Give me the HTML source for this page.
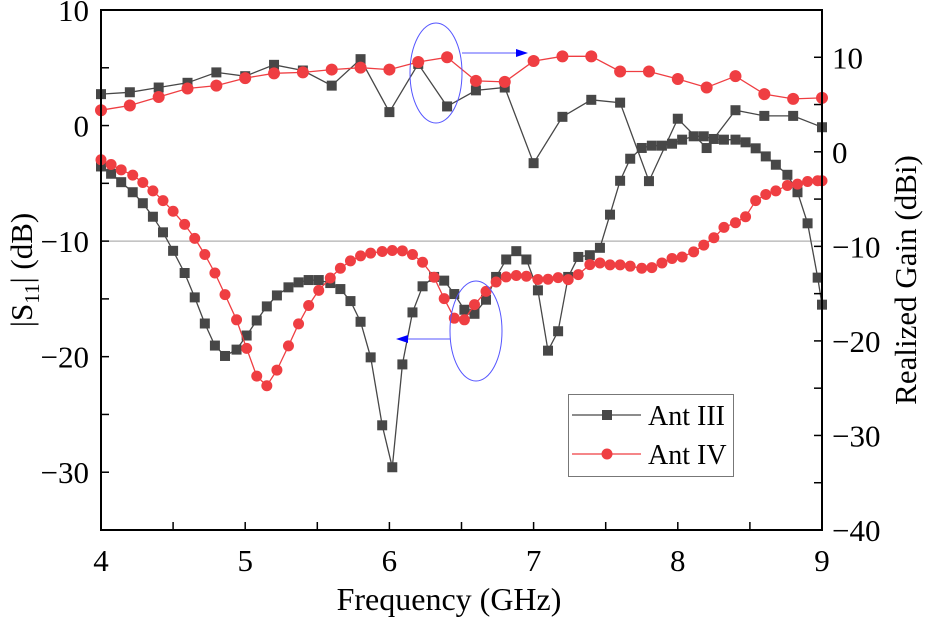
<!DOCTYPE html>
<html><head><meta charset="utf-8">
<style>
html,body{margin:0;padding:0;background:#fff;}
svg{display:block;font-family:"Liberation Serif",serif;}
</style></head>
<body>
<svg id="chart" width="925" height="619" viewBox="0 0 925 619"></svg>
<script>
const freqS11=[4.00,4.07,4.14,4.22,4.29,4.36,4.43,4.50,4.58,4.65,4.72,4.79,4.86,4.94,5.01,5.08,5.15,5.22,5.30,5.37,5.44,5.51,5.59,5.66,5.73,5.80,5.87,5.95,6.02,6.09,6.16,6.23,6.31,6.38,6.45,6.52,6.59,6.67,6.74,6.81,6.88,6.95,7.03,7.10,7.17,7.24,7.31,7.39,7.46,7.53,7.60,7.67,7.75,7.82,7.89,7.96,8.03,8.11,8.18,8.25,8.32,8.40,8.47,8.54,8.61,8.68,8.76,8.83,8.90,8.97,9.00];
const s11AntIII=[-3.54,-4.17,-4.90,-5.77,-6.72,-7.89,-9.24,-10.84,-12.76,-14.87,-17.13,-19.04,-19.94,-19.39,-18.17,-16.87,-15.65,-14.70,-14.00,-13.57,-13.37,-13.37,-13.63,-14.15,-15.19,-16.98,-20.06,-25.94,-29.57,-20.67,-16.17,-13.91,-13.10,-13.42,-14.58,-15.94,-16.29,-15.07,-13.10,-11.59,-10.87,-11.59,-14.26,-19.48,-17.80,-13.10,-11.37,-11.22,-10.58,-7.71,-4.78,-2.87,-1.94,-1.74,-1.74,-1.57,-1.22,-0.93,-0.93,-1.16,-1.22,-1.22,-1.45,-1.97,-2.67,-3.39,-4.26,-5.77,-8.46,-13.16,-15.50];
const s11AntIV=[-2.96,-3.37,-3.83,-4.29,-4.93,-5.65,-6.50,-7.42,-8.55,-9.76,-11.16,-12.76,-14.63,-16.81,-19.28,-21.68,-22.52,-21.16,-19.07,-17.16,-15.57,-14.26,-13.19,-12.35,-11.71,-11.28,-11.04,-10.90,-10.81,-10.84,-11.16,-11.83,-13.13,-14.98,-16.67,-16.81,-15.50,-14.35,-13.54,-13.10,-12.98,-13.04,-13.32,-13.30,-13.16,-13.33,-12.90,-12.03,-11.89,-12.06,-12.06,-12.17,-12.35,-12.29,-11.89,-11.50,-11.37,-10.93,-10.35,-9.71,-8.81,-8.41,-7.89,-6.50,-5.97,-5.65,-5.19,-5.07,-4.84,-4.78,-4.78];
const freqGain=[4.0,4.2,4.4,4.6,4.8,5.0,5.2,5.4,5.6,5.8,6.0,6.2,6.4,6.6,6.8,7.0,7.2,7.4,7.6,7.8,8.0,8.2,8.4,8.6,8.8,9.0];
const gainAntIII=[6.1,6.3,6.8,7.3,8.4,8.0,9.2,8.6,7.0,9.8,4.2,9.3,4.8,6.5,6.8,-1.2,3.7,5.5,5.2,-3.1,3.5,0.4,4.4,3.8,3.8,2.6];
const gainAntIV=[4.4,4.9,5.8,6.7,7.0,7.8,8.3,8.4,8.7,8.9,8.7,9.5,10.0,7.5,7.4,9.6,10.1,10.1,8.5,8.5,7.7,6.8,8.0,6.1,5.6,5.7];
const xTicks=[4,5,6,7,8,9];
const leftTicks=[10,0,-10,-20,-30];
const rightTicks=[10,0,-10,-20,-30,-40];

const NS="http://www.w3.org/2000/svg";
const svg=document.getElementById("chart");
const L=101,R=822,T=10,B=530;
const x=f=>L+(f-4)/5*(R-L);
const yL=v=>B-(v+35)/45*(B-T);
const yR=v=>B-(v+40)/55*(B-T);
function mk(tag,attrs,parent){const e=document.createElementNS(NS,tag);for(const k in attrs)e.setAttribute(k,attrs[k]);(parent||svg).appendChild(e);return e;}

const ref=mk("line",{x1:L,x2:R,y1:yL(-10),y2:yL(-10),stroke:"#b0b0b0","stroke-width":1.2});



function series(xs,ys,yf,color,shape,name,sz){
  const g=mk("g",{});
  
  
  const pts=xs.map((f,i)=>x(f).toFixed(1)+","+yf(ys[i]).toFixed(1)).join(" ");
  const pl=mk("polyline",{points:pts,fill:"none",stroke:color,"stroke-width":1.3},g);
  
  
  xs.forEach((f,i)=>{
    let m;
    if(shape==="sq") m=mk("rect",{x:x(f)-sz/2,y:yf(ys[i])-sz/2,width:sz,height:sz,fill:color},g);
    else m=mk("circle",{cx:x(f),cy:yf(ys[i]),r:sz/2,fill:color},g);
    
    
  });
}
series(freqGain,gainAntIII,yR,"#474747","sq","gain-ant-iii",10);
series(freqGain,gainAntIV,yR,"#ef3e42","ci","gain-ant-iv",12);
series(freqS11,s11AntIII,yL,"#474747","sq","s11-ant-iii",10);
series(freqS11,s11AntIV,yL,"#ef3e42","ci","s11-ant-iv",11);

const fr=mk("rect",{x:L,y:T,width:R-L,height:B-T,fill:"none",stroke:"#000","stroke-width":2});



for(let f=4;f<=9.001;f+=0.5){
  const t=mk("line",{x1:x(f),x2:x(f),y1:B,y2:B-8,stroke:"#000","stroke-width":1.5});
  
  
}
xTicks.forEach(f=>{
  const t=mk("text",{x:x(f),y:B+41,"text-anchor":"middle","font-size":31});
  t.textContent=f;
  
  
});
for(let v=10;v>=-35;v-=5){
  const t=mk("line",{x1:L,x2:L+8,y1:yL(v),y2:yL(v),stroke:"#000","stroke-width":1.5});
  
  
}
leftTicks.forEach(v=>{
  const t=mk("text",{x:L-12,y:yL(v)+11,"text-anchor":"end","font-size":31});
  t.textContent=v<0?"\u2212"+(-v):v;
  
  
});
for(let v=15;v>=-40;v-=5){
  const t=mk("line",{x1:R,x2:R-8,y1:yR(v),y2:yR(v),stroke:"#000","stroke-width":1.5});
  
  
}
rightTicks.forEach(v=>{
  const t=mk("text",{x:R+10,y:yR(v)+11,"text-anchor":"start","font-size":31});
  t.textContent=v<0?"\u2212"+(-v):v;
  
  
});
</script>
<svg style="position:absolute;left:0;top:0" width="925" height="619">
  <text x="449" y="610" text-anchor="middle" font-size="32" font-family="Liberation Serif, serif">Frequency (GHz)</text>
  <text transform="translate(32,270) rotate(-90)" text-anchor="middle" font-size="31" font-family="Liberation Serif, serif">|S<tspan font-size="21" dy="7">11</tspan><tspan dy="-7">| (dB)</tspan></text>
  <text transform="translate(916,280) rotate(-90)" text-anchor="middle" font-size="31" font-family="Liberation Serif, serif">Realized Gain (dBi)</text>
  <ellipse cx="436" cy="73" rx="26" ry="50" fill="none" stroke="#5555ff" stroke-width="1"/>
  <line x1="462" y1="53" x2="518" y2="53" stroke="#5555ff" stroke-width="1"/>
  <polygon points="528,53 516,49 516,57" fill="#0000ff"/>
  <ellipse cx="476" cy="331" rx="26" ry="50" fill="none" stroke="#5555ff" stroke-width="1"/>
  <line x1="450" y1="339" x2="406" y2="339" stroke="#5555ff" stroke-width="1"/>
  <polygon points="396,339 408,335 408,343" fill="#0000ff"/>
  <g>
    <rect x="568.5" y="394.5" width="165" height="82" fill="#fff" stroke="#777" stroke-width="1"/>
    <g>
      <line x1="572" y1="415" x2="641" y2="415" stroke="#474747" stroke-width="1.3"/>
      <rect x="602" y="410" width="10" height="10" fill="#474747"/>
      <text x="648" y="425" font-size="28" font-family="Liberation Serif, serif">Ant III</text>
    </g>
    <g>
      <line x1="572" y1="454" x2="641" y2="454" stroke="#ef3e42" stroke-width="1.3"/>
      <circle cx="607" cy="454" r="5.5" fill="#ef3e42"/>
      <text x="648" y="464" font-size="28" font-family="Liberation Serif, serif">Ant IV</text>
    </g>
  </g>
</svg>
</body></html>
